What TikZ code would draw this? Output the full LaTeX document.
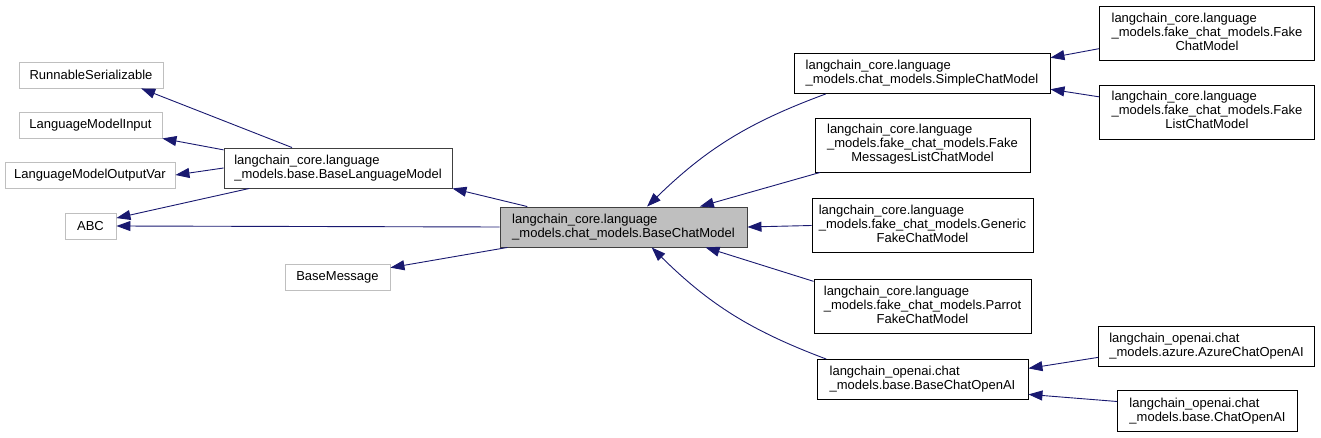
\documentclass[tikz,border=0pt]{standalone}
\usepackage{fontspec}
\setmainfont{Liberation Sans}
\usetikzlibrary{arrows.meta}
\definecolor{edgeblue}{HTML}{191970}
\definecolor{extgray}{HTML}{BFBFBF}
\definecolor{boxdark}{HTML}{404040}
\newcommand{\tripleline}[3]{\begin{tabular}{@{}l@{}}#1\\#2\\\multicolumn{1}{@{}c@{}}{#3}\end{tabular}}
\tikzset{
  cls/.style={draw=black, line width=0.9pt, fill=white, inner sep=0pt, align=left,
    font=\fontsize{13}{14}\selectfont, minimum height=40pt},
  ext/.style={cls, draw=extgray, minimum height=26pt},
  focus/.style={cls, draw=boxdark, fill=extgray},
  inh/.style={draw=edgeblue, line width=0.9pt, -{Triangle[length=14pt,width=10pt]}}
}
\begin{document}
\begin{tikzpicture}[x=1pt,y=-1pt]
  \useasboundingbox (0,0) rectangle (1321,438);
  \node[ext, minimum width=144pt] (rs) at (91,75) {RunnableSerializable};
  \node[ext, minimum width=143pt] (lmi) at (90.5,125) {LanguageModelInput};
  \node[ext, minimum width=170pt] (lmov) at (90,175) {LanguageModelOutputVar};
  \node[ext, minimum width=51pt] (abc) at (90.5,226) {ABC};
  \node[ext, minimum width=105pt] (bm) at (337.5,277) {BaseMessage};
  \node[cls, draw=boxdark, minimum width=228pt] (blm) at (338,168) {langchain\_core.language\\\_models.base.BaseLanguageModel};
  \node[focus, minimum width=247pt] (bcm) at (623.5,227) {langchain\_core.language\\\_models.chat\_models.BaseChatModel};
  \node[cls, minimum width=256pt] (scm) at (922,73.5) {langchain\_core.language\\\_models.chat\_models.SimpleChatModel};
  \node[cls, minimum width=215pt, minimum height=54pt] (fcm) at (1207,33.5) {\tripleline{langchain\_core.language}{\_models.fake\_chat\_models.Fake}{ChatModel}};
  \node[cls, minimum width=215pt, minimum height=54pt] (flcm) at (1207,112) {\tripleline{langchain\_core.language}{\_models.fake\_chat\_models.Fake}{ListChatModel}};
  \node[cls, minimum width=215pt, minimum height=54pt] (fmlcm) at (922.5,145) {\tripleline{langchain\_core.language}{\_models.fake\_chat\_models.Fake}{MessagesListChatModel}};
  \node[cls, minimum width=221pt, minimum height=54pt] (gfcm) at (922.5,225.5) {\tripleline{langchain\_core.language}{\_models.fake\_chat\_models.Generic}{FakeChatModel}};
  \node[cls, minimum width=217pt, minimum height=54pt] (pfcm) at (922.5,306.5) {\tripleline{langchain\_core.language}{\_models.fake\_chat\_models.Parrot}{FakeChatModel}};
  \node[cls, minimum width=211pt] (bco) at (922.5,379.5) {langchain\_openai.chat\\\_models.base.BaseChatOpenAI};
  \node[cls, minimum width=216pt] (aco) at (1206.5,346) {langchain\_openai.chat\\\_models.azure.AzureChatOpenAI};
  \node[cls, minimum width=180pt, minimum height=41pt] (co) at (1207.5,411) {langchain\_openai.chat\\\_models.base.ChatOpenAI};
  \draw[inh] (blm.156) -- (rs.-15);
  \draw[inh] (blm.171) -- (lmi.south east);
  \draw[inh] (blm.west) -- (lmov.east);
  \draw[inh] (blm.193) -- (abc.17);
  \draw[inh] (bcm.west) -- (abc.east);
  \draw[inh] (bcm.190) -- (bm.10);
  \draw[inh] (bcm.168) -- (blm.south east);
  \draw[inh] (scm.-168) to[bend right=12] (bcm.41);
  \draw[inh] (fmlcm.195) -- (bcm.15);
  \draw[inh] (gfcm.west) -- (bcm.east);
  \draw[inh] (pfcm.167) -- (bcm.-14);
  \draw[inh] (bco.168) to[bend left=12] (bcm.-36);
  \draw[inh] (fcm.188) -- (scm.7);
  \draw[inh] (flcm.172) -- (scm.-7);
  \draw[inh] (aco.186) -- (bco.6);
  \draw[inh] (co.174) -- (bco.-8);
\end{tikzpicture}
\end{document}
